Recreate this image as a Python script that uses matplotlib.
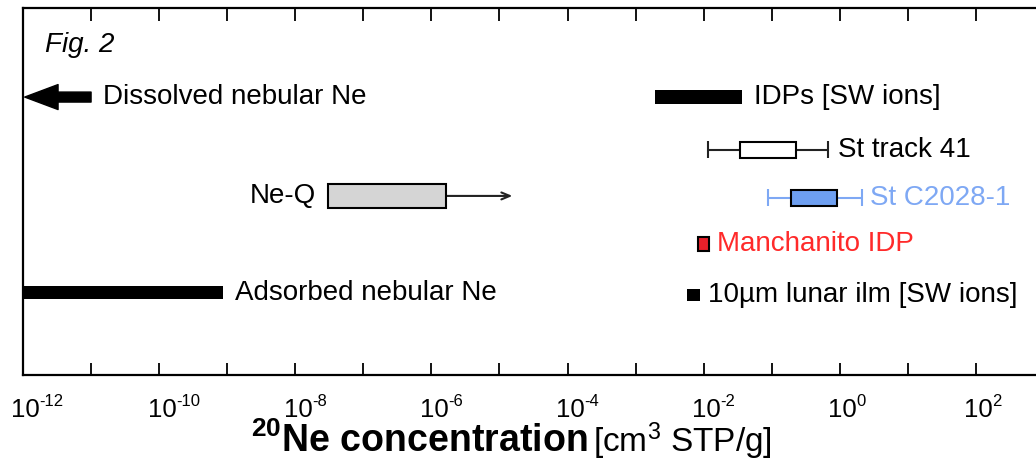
import math

import matplotlib
matplotlib.use("Agg")
import matplotlib.pyplot as plt
import matplotlib.transforms as mtransforms
from matplotlib.ticker import FixedLocator, NullFormatter, NullLocator

plt.rcParams["font.family"] = ["Liberation Sans", "DejaVu Sans"]
plt.rcParams["mathtext.fontset"] = "custom"
plt.rcParams["mathtext.rm"] = "Liberation Sans"
plt.rcParams["mathtext.it"] = "Liberation Sans:italic"
plt.rcParams["mathtext.bf"] = "Liberation Sans:bold"

# 20Ne concentration ranges [cm3 STP/g]
dissolved_upper = 1.0e-11           # arrow pointing to lower values
idps_range = (1.95e-3, 3.6e-2)
track41_box = (3.4e-2, 0.23)
track41_whisker = (1.17e-2, 0.68)
c2028_box = (0.19, 0.91)
c2028_whisker = (0.087, 2.14)
neq_box = (3.0e-8, 1.62e-6)
neq_arrow_to = 1.55e-5
manchanito_range = (8.2e-3, 1.19e-2)
lunar_range = (5.6e-3, 8.9e-3)
adsorbed_range = (1.0e-12, 8.7e-10)

decades = list(range(-12, 4))
labelled_decades = list(range(-12, 3, 2))

# Row positions (layout only)
Y_DISS = 5.68
Y_IDP = 5.68
Y_T41 = 4.60
Y_NEQ = 3.66
Y_C2028 = 3.62
Y_MAN = 2.68
Y_ADS = 1.68
Y_LUN = 1.64

LIGHT_BLUE = "#7ea8f4"
BOX_BLUE = "#6e9ff0"
RED = "#ff2a2a"
FS = 20

fig = plt.figure(figsize=(10.36, 4.70), dpi=100)
ax = fig.add_axes([0.0222, 0.202, 0.9855, 0.781])
ax.set_xscale("log")
ax.set_xlim(1e-12, 1e3)
ax.set_ylim(0, 7.5)


def span(rng, y, h, fc, ec="black", lw=1.5, z=3):
    ax.barh(y, rng[1] - rng[0], left=rng[0], height=h, color=fc,
            edgecolor=ec, linewidth=lw, zorder=z)


def whisker(rng, y, cap, color, lw=1.5):
    ax.hlines(y, rng[0], rng[1], color=color, lw=lw, zorder=2)
    ax.vlines(rng, y - cap / 2, y + cap / 2, color=color, lw=lw, zorder=2)


# Dissolved nebular Ne: thick arrow towards the left edge
ax.annotate("", xy=(1.06e-12, Y_DISS), xytext=(dissolved_upper, Y_DISS),
            arrowprops=dict(arrowstyle="simple,head_length=1.2,head_width=0.9,tail_width=0.36",
                            fc="black", ec="black", mutation_scale=20, shrinkA=0, shrinkB=0))
ax.text(1.5e-11, Y_DISS, "Dissolved nebular Ne", fontsize=FS, va="center", ha="left")

# IDPs
span(idps_range, Y_IDP, 0.27, "black", lw=0)
ax.text(0.055, Y_IDP, "IDPs [SW ions]", fontsize=FS, va="center", ha="left")

# St track 41
whisker(track41_whisker, Y_T41, 0.35, "#222222")
span(track41_box, Y_T41, 0.31, "white")
ax.text(0.93, Y_T41, "St track 41", fontsize=FS, va="center", ha="left")

# Ne-Q
ax.annotate("", xy=(neq_arrow_to, Y_NEQ), xytext=(neq_box[1], Y_NEQ),
            arrowprops=dict(arrowstyle="->,head_length=0.6,head_width=0.25",
                            color="#222222", lw=1.5, shrinkA=0, shrinkB=0))
span(neq_box, Y_NEQ, 0.49, "#d5d5d5")
ax.text(2.0e-8, Y_NEQ, "Ne-Q", fontsize=FS, va="center", ha="right")

# St C2028-1
whisker(c2028_whisker, Y_C2028, 0.35, LIGHT_BLUE)
span(c2028_box, Y_C2028, 0.33, BOX_BLUE)
ax.text(2.75, Y_C2028, "St C2028-1", fontsize=FS, va="center", ha="left", color=LIGHT_BLUE)

# Manchanito IDP
span(manchanito_range, Y_MAN, 0.29, "#e8202a")
ax.text(0.0158, Y_MAN, "Manchanito IDP", fontsize=FS, va="center", ha="left", color=RED)

# Adsorbed nebular Ne
span(adsorbed_range, Y_ADS, 0.27, "black", lw=0)
ax.text(1.3e-9, Y_ADS, "Adsorbed nebular Ne", fontsize=FS, va="center", ha="left")

# 10um lunar ilmenite
span(lunar_range, Y_LUN, 0.25, "black", lw=0)
ax.text(0.0115, Y_LUN, "10\u00b5m lunar ilm [SW ions]", fontsize=FS, va="center", ha="left")

ax.text(2.1e-12, 6.74, "Fig. 2", fontsize=20, style="italic", va="center", ha="left")

# Axis styling: ticks every decade, inward, top and bottom
ax.xaxis.set_major_locator(FixedLocator([10.0 ** d for d in decades]))
ax.xaxis.set_minor_locator(NullLocator())
ax.xaxis.set_major_formatter(NullFormatter())
ax.tick_params(axis="x", which="major", direction="in", length=9, width=1.3, top=True)
ax.set_yticks([])
for side in ("left", "bottom", "top", "right"):
    ax.spines[side].set_linewidth(1.6)

# Tick labels: "10" centred on the tick, small exponent to its right
xtrans = mtransforms.blended_transform_factory(ax.transData, fig.transFigure)
for d in labelled_decades:
    x = 10.0 ** d
    base = mtransforms.offset_copy(xtrans, fig=fig, x=2, y=0, units="points")
    ax.text(x, 1 - 410 / 470, "10", fontsize=18.5, ha="center", va="center",
            transform=base, clip_on=False)
    sup = mtransforms.offset_copy(xtrans, fig=fig, x=12, y=6, units="points")
    ax.text(x, 1 - 410 / 470, str(d), fontsize=12, ha="left", va="center",
            transform=sup, clip_on=False)

# Axis title: bold part + regular unit part
fig.text(588 / 1036, 1 - 441 / 470, r"$\mathbf{^{20}}$Ne concentration", fontsize=27,
         fontweight="bold", ha="right", va="center")
fig.text(593 / 1036, 1 - 441 / 470, r"[cm$^{3}$ STP/g]", fontsize=24,
         ha="left", va="center")

fig.savefig("out.png", dpi=100)
